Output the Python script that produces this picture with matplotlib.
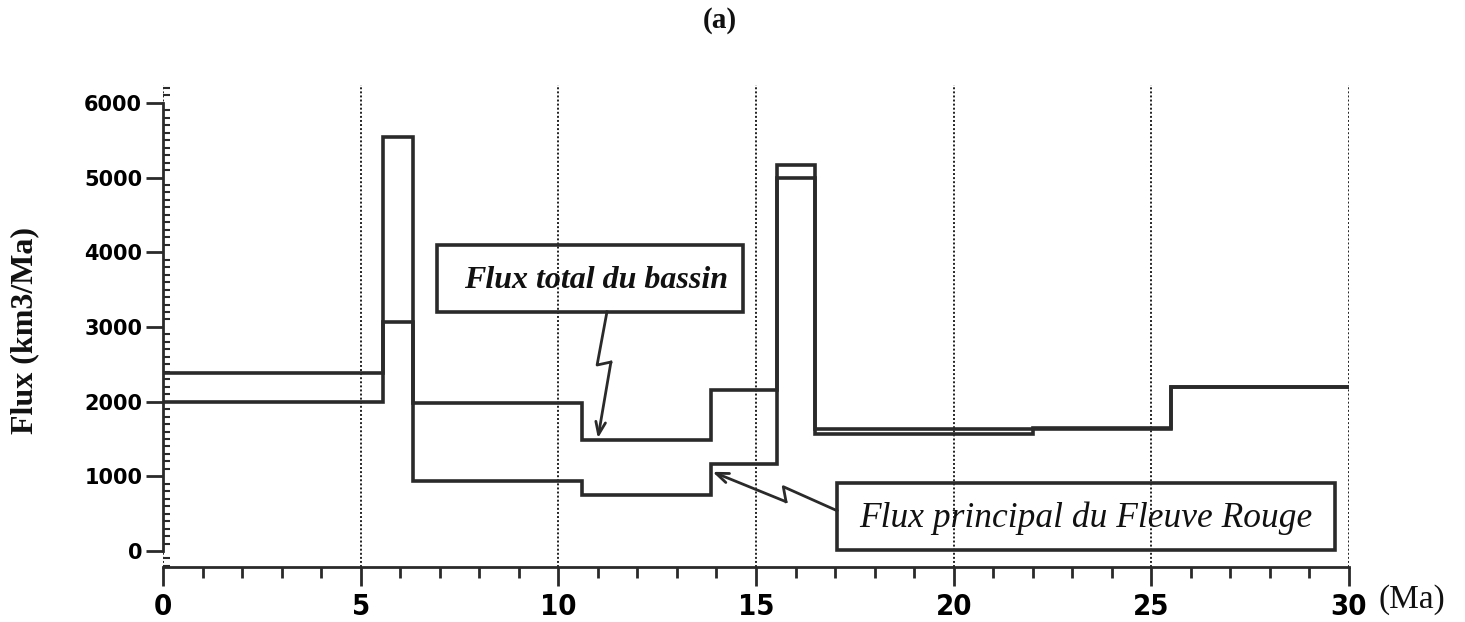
import matplotlib
matplotlib.use("Agg")
import matplotlib.pyplot as plt
from matplotlib import font_manager
from matplotlib.patches import Rectangle
from matplotlib.ticker import MultipleLocator

# step edges (Ma) and flux levels (km3/Ma)
edges = [0, 5.57, 6.33, 10.6, 13.86, 15.52, 16.5, 22.0, 25.5, 30]
flux_total = [2380, 5540, 1980, 1490, 2160, 5170, 1560, 1650, 2200]
flux_principal = [1990, 3060, 940, 750, 1170, 5000, 1630, 1630, 2200]

x_ticks = [0, 5, 10, 15, 20, 25, 30]
y_ticks = [0, 1000, 2000, 3000, 4000, 5000, 6000]

serif = "Liberation Serif"

# a condensed bold face for the x tick labels if one is installed
cond = None
for f in font_manager.fontManager.ttflist:
    if f.name == "DejaVu Sans" and "condensed" in str(f.stretch) and f.weight in (700, "bold"):
        cond = font_manager.FontProperties(fname=f.fname, size=21)
        break
if cond is None:
    cond = font_manager.FontProperties(family=serif, weight="bold", size=22)

fig = plt.figure(figsize=(14.65, 6.22), dpi=100)
fig.patch.set_facecolor("white")
ax = fig.add_axes([0.1113, 0.0884, 0.8095, 0.7749])

ink = "#2a2a2a"
lw = 2.6

ax.step(edges, flux_total + [flux_total[-1]], where="post", color=ink, lw=lw,
        solid_joinstyle="miter")
ax.step(edges, flux_principal + [flux_principal[-1]], where="post", color=ink, lw=lw,
        solid_joinstyle="miter")

ax.set_xlim(0, 30)
ax.set_ylim(-214, 6238)

for x in x_ticks:
    ax.axvline(x, color="#222222", lw=1.4, linestyle=(0, (1, 1.1)), zorder=0)

ax.spines["top"].set_visible(False)
ax.spines["right"].set_visible(False)
ax.spines["left"].set_bounds(0, 6000)
ax.spines["left"].set_linewidth(2)
ax.spines["bottom"].set_linewidth(2)
ax.spines["left"].set_color(ink)
ax.spines["bottom"].set_color(ink)

ax.set_xticks(x_ticks)
ax.xaxis.set_minor_locator(MultipleLocator(1))
ax.set_yticks(y_ticks)
ax.yaxis.set_minor_locator(MultipleLocator(100))

ax.tick_params(axis="x", which="major", direction="out", length=14, width=2,
               color=ink, pad=5)
ax.tick_params(axis="x", which="minor", direction="out", length=8, width=2, color=ink)
ax.tick_params(axis="y", which="major", direction="out", length=12, width=2,
               color=ink, pad=3)
ax.tick_params(axis="y", which="minor", direction="in", length=5, width=1.5, color=ink)

for lab in ax.get_xticklabels():
    lab.set_fontproperties(cond)
for lab in ax.get_yticklabels():
    lab.set_fontfamily("DejaVu Sans")
    lab.set_fontweight("bold")
    lab.set_fontsize(15)

# annotation boxes
ax.add_patch(Rectangle((6.93, 3203), 14.67 - 6.93, 4096 - 3203, fill=False,
                       edgecolor=ink, lw=lw, zorder=3))
ax.text((6.93 + 14.67) / 2 + 0.15, (3203 + 4096) / 2 - 30, "Flux total du bassin",
        ha="center", va="center", fontfamily=serif, fontweight="bold",
        fontstyle="italic", fontsize=23, color="#111111")

ax.add_patch(Rectangle((17.05, 13), 29.65 - 17.05, 910 - 13, fill=False,
                       edgecolor=ink, lw=lw, zorder=3))
ax.text((17.05 + 29.65) / 2, (13 + 910) / 2 - 20, "Flux principal du Fleuve Rouge",
        ha="center", va="center", fontfamily=serif, fontstyle="italic",
        fontsize=25.5, color="#111111")

# zigzag arrows
z1x = [11.23, 10.98, 11.33, 11.0]
z1y = [3203, 2490, 2530, 1510]
ax.plot(z1x[:3], z1y[:3], color=ink, lw=2)
ax.annotate("", xy=(z1x[3], z1y[3]), xytext=(z1x[2], z1y[2]),
            arrowprops=dict(arrowstyle="->,head_length=0.9,head_width=0.35",
                            color=ink, lw=2, shrinkA=0, shrinkB=0))

z2x = [17.05, 15.69, 15.76, 13.9]
z2y = [540, 861, 660, 1060]
ax.plot(z2x[:3], z2y[:3], color=ink, lw=2)
ax.annotate("", xy=(z2x[3], z2y[3]), xytext=(z2x[2], z2y[2]),
            arrowprops=dict(arrowstyle="->,head_length=0.9,head_width=0.35",
                            color=ink, lw=2, shrinkA=0, shrinkB=0))

fig.text(25 / 1465, 1 - 330 / 622, "Flux (km3/Ma)", rotation=90, ha="center",
         va="center", fontfamily=serif, fontweight="bold", fontsize=23, color="#111111")
fig.text(1412 / 1465, 1 - 600 / 622, "(Ma)", ha="center", va="center",
         fontfamily=serif, fontsize=24, color="#111111")
fig.text(720 / 1465, 1 - 20 / 622, "(a)", ha="center", va="center",
         fontfamily=serif, fontweight="bold", fontsize=21, color="#111111")

fig.savefig("out.png", dpi=100, facecolor="white")
